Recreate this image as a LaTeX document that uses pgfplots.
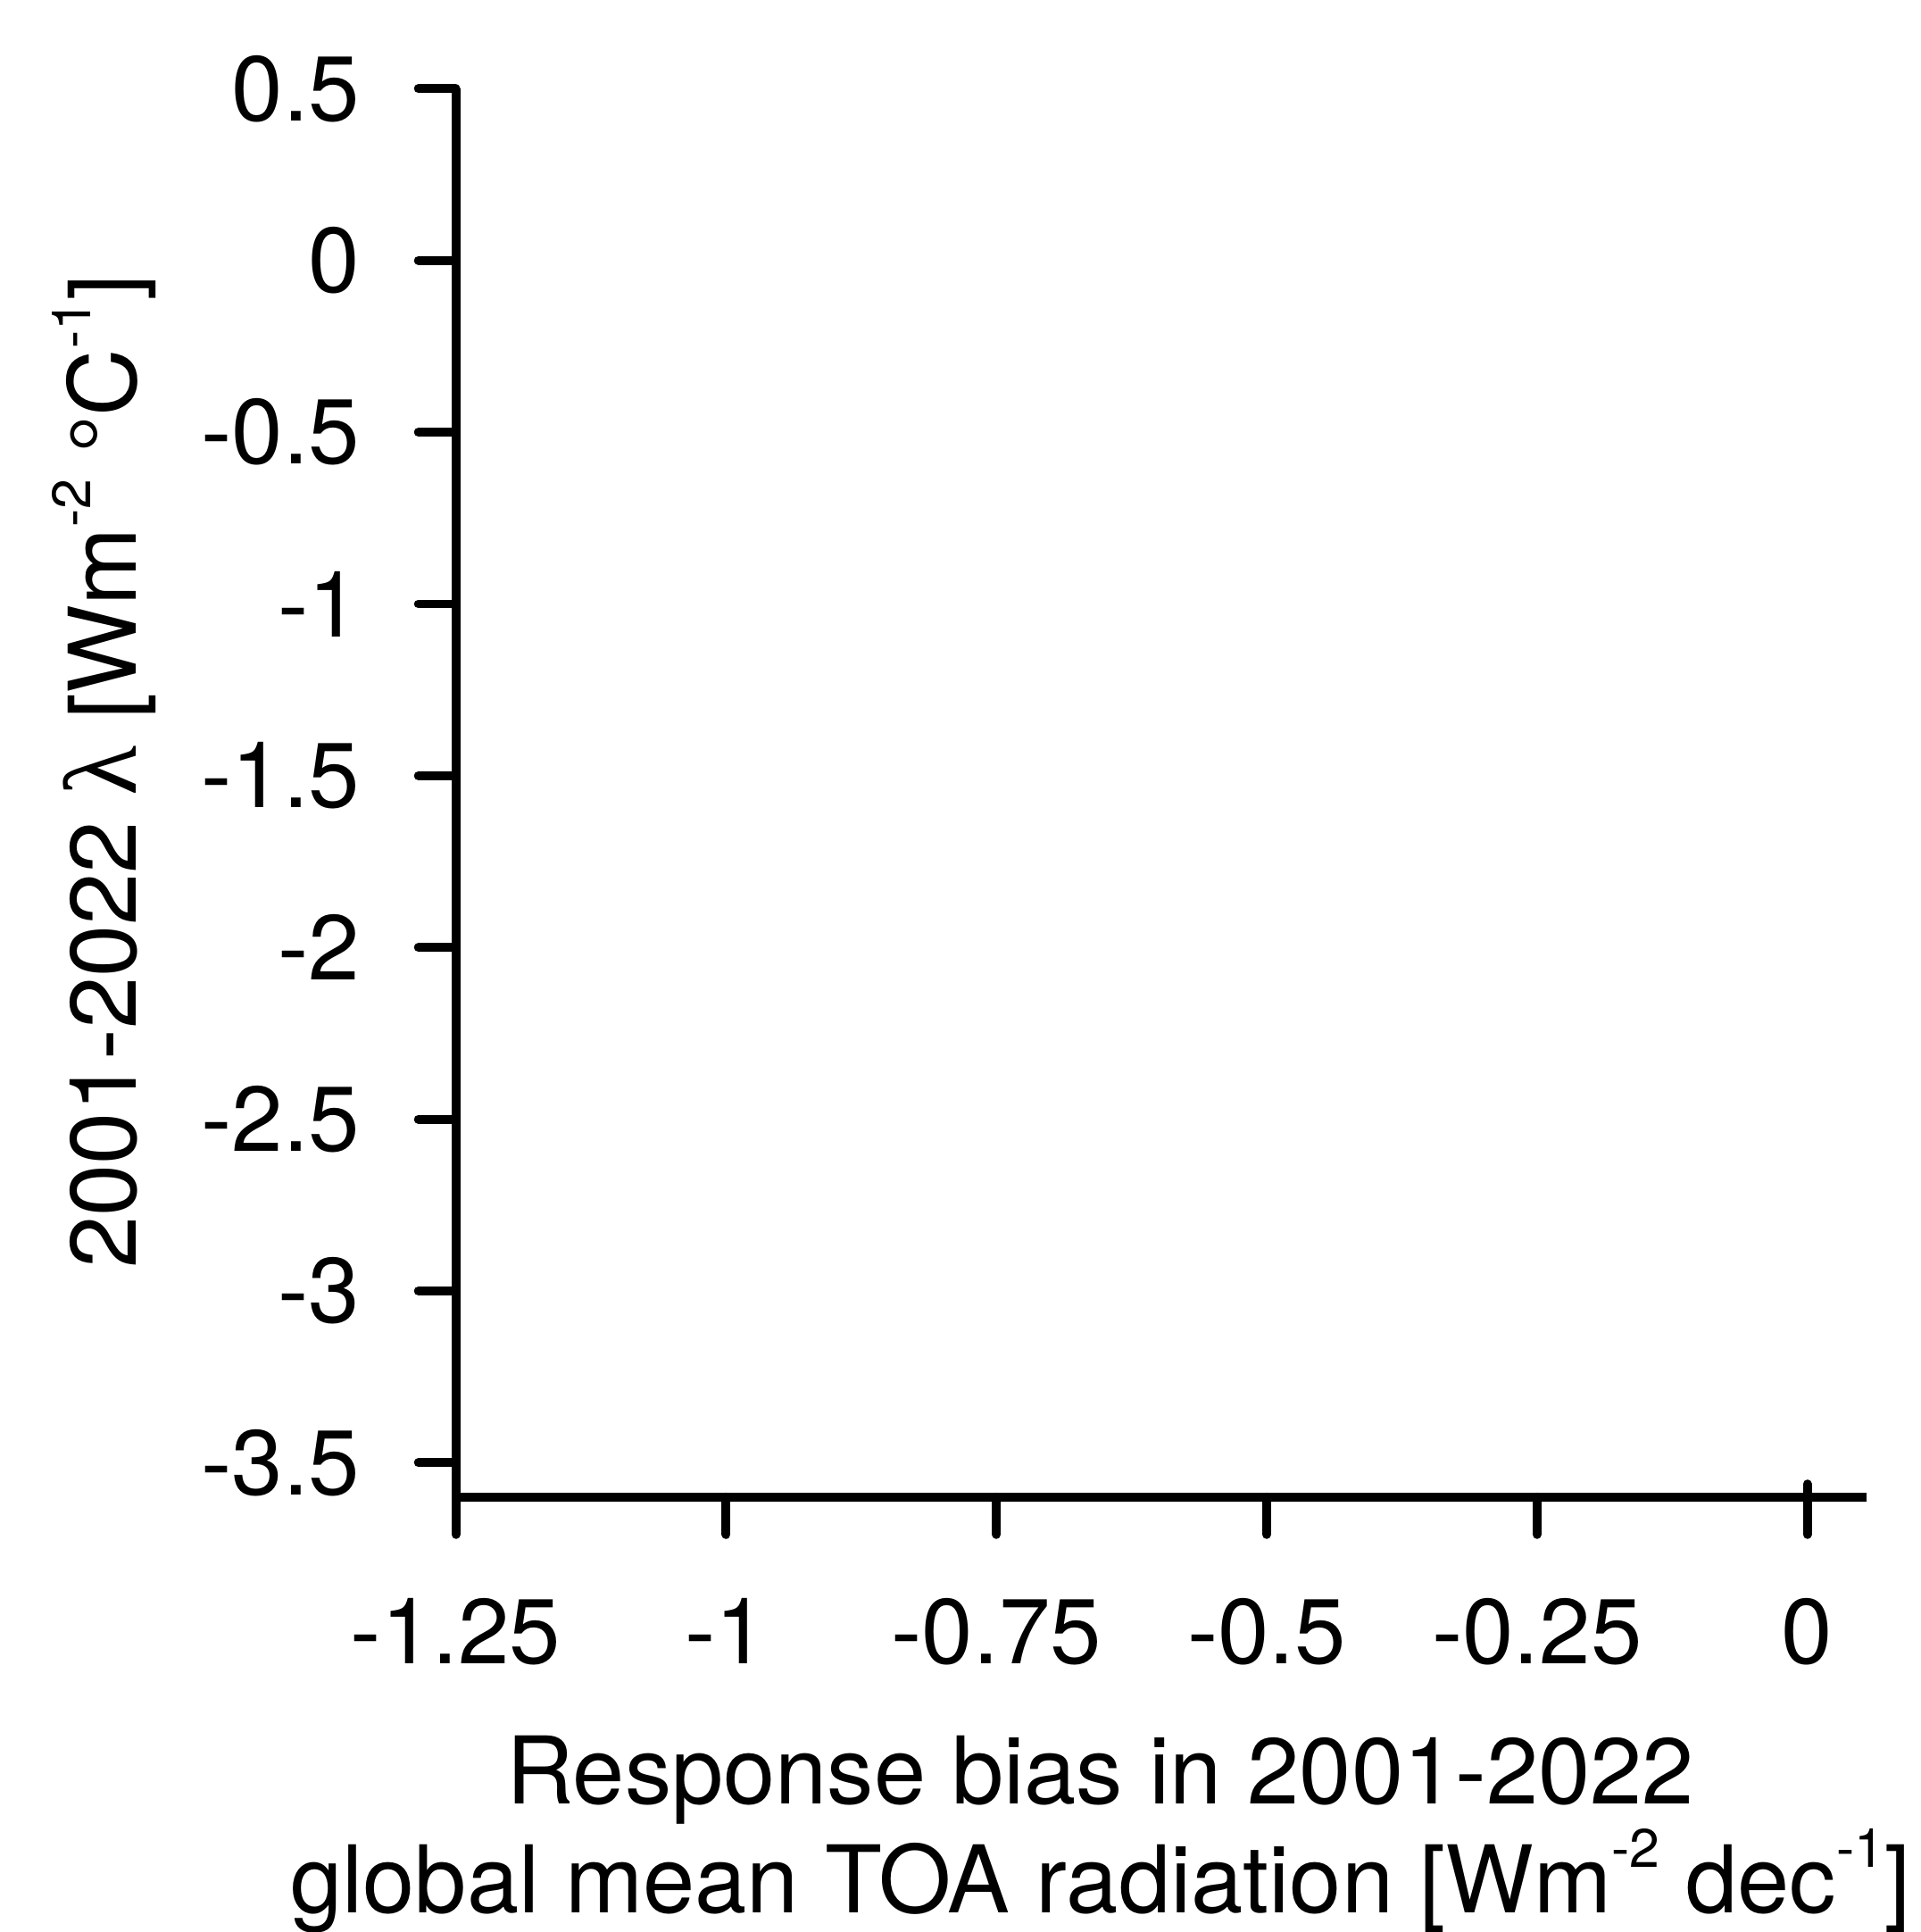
\documentclass[border=0pt]{standalone}
\usepackage{fontspec}
\setmainfont{TeX Gyre Heros}
\newfontfamily\grk{Liberation Serif}
\usepackage{pgfplots}
\pgfplotsset{compat=1.18}
\newcommand\sups[1]{\raisebox{9.2pt}{\fontsize{11}{12}\selectfont #1}}
\begin{document}
\begin{tikzpicture}[font=\fontsize{18.5}{23}\selectfont]
\useasboundingbox (-92.5pt,-88.25pt) rectangle (297.25pt,303.75pt);
\begin{axis}[
  scale only axis, width=286.25pt, height=285.75pt,
  xmin=-1.25, xmax=0.0547, ymin=-3.6, ymax=0.5,
  axis x line*=bottom, axis y line*=left,
  axis line style={line width=1.8pt, black},
  xtick={-1.25,-1,-0.75,-0.5,-0.25,0},
  xticklabels={-1.25,-1,-0.75,-0.5,-0.25,0},
  ytick={-3.5,-3,-2.5,-2,-1.5,-1,-0.5,0,0.5},
  yticklabels={-3.5,-3,-2.5,-2,-1.5,-1,-0.5,0,0.5},
  extra x ticks={0}, extra x tick labels={},
  extra x tick style={tick align=center, major tick length=5.3pt},
  tick align=outside, major tick length=7.6pt,
  tick style={line width=1.8pt, black, line cap=round},
  xticklabel shift=9.5pt, yticklabel shift=8.3pt,
  ticklabel style={font=\fontsize{18.7}{23}\selectfont},
  xlabel={Response bias in 2001-2022\\global mean TOA radiation [Wm\sups{-2} dec\sups{-1}]},
  every axis x label/.style={at={(axis description cs:0.457,-0.1572)}, anchor=north, align=center, font=\fontsize{18.95}{21}\selectfont},
  ylabel={2001-2022 {\grk\fontsize{21}{23}\selectfont λ} [Wm\sups{-2} °C\sups{-1}]},
  every axis y label/.style={at={(axis description cs:-0.2267,0.5153)}, anchor=base, rotate=90, font=\fontsize{18.95}{23}\selectfont},
]
\end{axis}
\end{tikzpicture}
\end{document}
